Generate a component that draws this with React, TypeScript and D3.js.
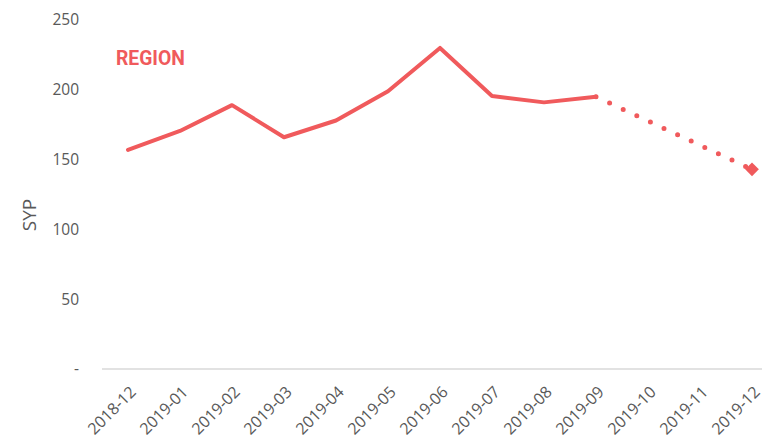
import React from "react";
import * as d3 from "d3";

const categories = ["2018-12","2019-01","2019-02","2019-03","2019-04","2019-05","2019-06","2019-07","2019-08","2019-09","2019-10","2019-11","2019-12"];
const actualValues = [157, 170.5, 189, 166, 178, 199, 230, 195.5, 191, 195];
const forecastCats = ["2019-09", "2019-12"];
const forecastValues = [195, 143];
const yTicks = [0, 50, 100, 150, 200, 250];
const title = "REGION";
const yLabel = "SYP";

const COLOR = "#F05A5C";

export default function App() {
  const W = 771, H = 440;
  const x = d3.scalePoint<string>().domain(categories).range([128, 752]);
  const y = d3.scaleLinear().domain([0, 250]).range([369, 20]);
  const line = d3.line<[string, number]>().x(d => x(d[0])!).y(d => y(d[1]));
  const actual = categories.slice(0, actualValues.length).map((c, i) => [c, actualValues[i]] as [string, number]);
  const fc = forecastCats.map((c, i) => [c, forecastValues[i]] as [string, number]);
  const endX = x(forecastCats[1])!, endY = y(forecastValues[1]);
  const font = "'Open Sans', 'Liberation Sans', sans-serif";
  return (
    <svg width={W} height={H} style={{ position: "absolute", left: 0, top: 0 }} fontFamily={font}>
      <line x1={102} x2={762} y1={y(0)} y2={y(0)} stroke="#D9D9D9" strokeWidth={1.5} />
      {yTicks.map(t => (
        <text key={t} x={79} y={y(t)} dy="0.35em" textAnchor="end" fontSize={15.5} fill="#595959">
          {t === 0 ? "-" : t}
        </text>
      ))}
      <text transform={`translate(36,${215}) rotate(-90)`} textAnchor="middle" fontSize={19} fill="#595959">{yLabel}</text>
      {categories.map(c => (
        <text key={c} transform={`translate(${x(c)! + 9},${393}) rotate(-45)`} textAnchor="end" fontSize={16} fill="#595959">{c}</text>
      ))}
      <path d={line(actual)!} fill="none" stroke={COLOR} strokeWidth={4} strokeLinejoin="round" strokeLinecap="round" />
      <path d={line(fc)!} fill="none" stroke={COLOR} strokeWidth={5} strokeDasharray="0 15" strokeDashoffset={-15} strokeLinecap="round" />
      <path d={d3.symbol().type(d3.symbolDiamond2).size(120)()!} transform={`translate(${endX},${endY})`} fill={COLOR} />
      <text x={116} y={65} fontSize={21} fontWeight="bold" fill={COLOR} fontFamily="'Roboto', sans-serif" transform="translate(116,0) scale(0.92,1) translate(-116,0)">{title}</text>
    </svg>
  );
}
